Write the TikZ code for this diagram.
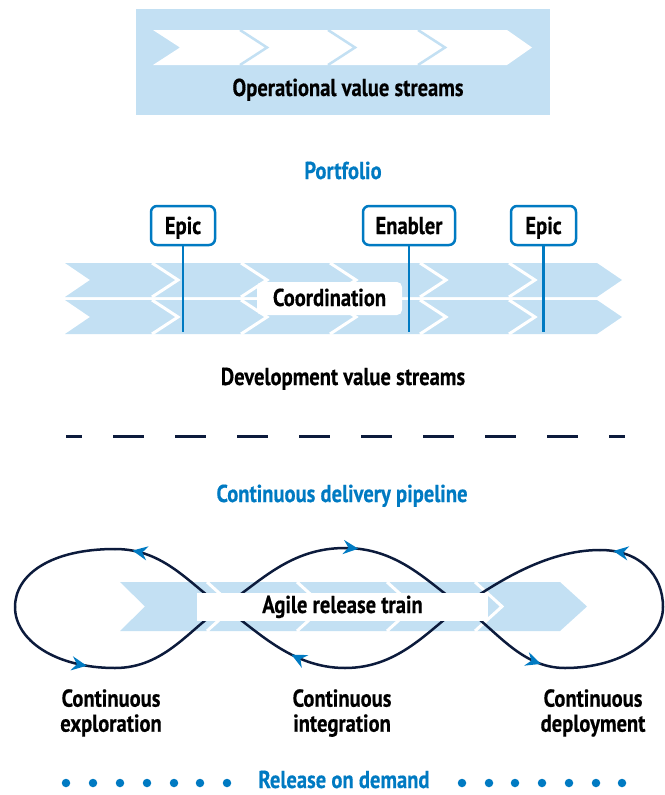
\documentclass[tikz,border=0pt]{standalone}
\usepackage{fontspec}
\newfontfamily\cf{PT Sans}[FakeStretch=0.84,FakeBold=0.4]
\usetikzlibrary{arrows.meta,decorations.markings}
\definecolor{lb}{RGB}{195,224,243}
\definecolor{bl}{RGB}{0,122,194}
\definecolor{nv}{RGB}{12,27,60}
\begin{document}
\begin{tikzpicture}[x=1pt,y=-1pt,
  lbl/.style={font=\cf\bfseries\fontsize{24.5}{25}\selectfont, inner sep=0pt},
  bluelbl/.style={lbl, text=bl},
  tagbox/.style={draw=bl, line width=2.5pt, rounded corners=6pt, fill=white, minimum height=39pt, inner sep=0pt},
  sepw/.style={white, line width=3pt},
  sepb/.style={lb, line width=2.5pt},
  pin/.style={bl, line width=2.5pt},
  loopseg/.style={nv, line width=2.5pt, line cap=round},
  arr/.style={postaction={decorate, decoration={markings, mark=at position #1 with {\arrow[color=bl]{Stealth[length=15pt,width=14pt,inset=5pt]}}}}},
  dotn/.style={circle, fill=bl, inner sep=0pt, minimum size=8.5pt}
]
\useasboundingbox (0,0) rectangle (664,795);

% ---------- Operational value streams ----------
\fill[lb] (136,9) rectangle (550,115);
\fill[white] (153,30) -- (507,30) -- (532,47.5) -- (507,65) -- (153,65) -- (180,47.5) -- cycle;
\foreach \x in {240,328,418} \draw[sepb] (\x,30) -- (\x+27,47.5) -- (\x,65);
\node[lbl, anchor=base] (ops) at (348,96) {Operational value streams};

% ---------- Portfolio ----------
\node[bluelbl, anchor=base] (portfolio) at (343,179) {Portfolio};

% development value stream chevrons
\foreach \ya/\yb in {263/297,300/334}{
  \fill[lb] (65,\ya) -- (597,\ya) -- (622,{(\ya+\yb)/2}) -- (597,\yb) -- (65,\yb) -- (90,{(\ya+\yb)/2}) -- cycle;
  \foreach \x in {152,241,330,420,509} \draw[sepw] (\x,\ya) -- (\x+26,{(\ya+\yb)/2}) -- (\x,\yb);
}

\node[fill=white, rounded corners=5pt, minimum width=145pt, minimum height=33pt, inner sep=0pt] (coord) at (329.5,298.5) {};
\node[lbl, anchor=base] (coordt) at (329.5,306) {Coordination};

\node[tagbox, minimum width=64pt] (epic1) at (183,225.5) {};
\node[tagbox, minimum width=92pt] (enabler) at (409,225.5) {};
\node[tagbox, minimum width=65pt] (epic2) at (543.5,225.5) {};
\node[lbl, anchor=base] (epic1t) at (183,234) {Epic};
\node[lbl, anchor=base] (enablert) at (409,234) {Enabler};
\node[lbl, anchor=base] (epic2t) at (543.5,234) {Epic};
\coordinate (p1) at (183,332);
\coordinate (p2) at (409,332);
\coordinate (p3) at (543.5,332);
\draw[pin] (epic1.south) -- (p1);
\draw[pin] (enabler.south) -- (p2);
\draw[pin] (epic2.south) -- (p3);

\node[lbl, anchor=base] (dev) at (343,385) {Development value streams};

% dashed separator
\coordinate (dl) at (66,436);
\coordinate (dr) at (625,436);
\draw[nv, line width=3pt, dash pattern=on 31pt off 31pt, dash phase=15pt] (dl) -- (dr);

% ---------- Continuous delivery pipeline ----------
\node[bluelbl, anchor=base] (cdp) at (342,502) {Continuous delivery pipeline};

\fill[lb] (120,582) -- (560,582) -- (587,606.5) -- (560,631) -- (120,631) -- (145,606.5) -- cycle;
\foreach \x in {207,297,387,475} \draw[sepw] (\x,582) -- (\x+27,606.5) -- (\x,631);

% loop curve
\draw[loopseg] (223,607) .. controls (260,582) and (290,548) .. (345,548);
\draw[loopseg, arr=0.1] (345,548) .. controls (400,548) and (430,585) .. (462,606);
\draw[loopseg, arr=0.8] (462,606) .. controls (495,628) and (520,668) .. (565,668);
\draw[loopseg] (565,668) .. controls (620,668) and (663,640) .. (663,607);
\draw[loopseg, arr=0.86] (663,607) .. controls (663,575) and (640,550) .. (600,550);
\draw[loopseg] (600,550) .. controls (545,550) and (495,584) .. (462,606);
\draw[loopseg] (462,606) .. controls (430,628) and (400,668) .. (345,668);
\draw[loopseg, arr=0.4] (345,668) .. controls (290,668) and (255,628) .. (223,607);
\draw[loopseg, arr=0.86] (223,607) .. controls (190,585) and (165,549) .. (115,549);
\draw[loopseg] (115,549) .. controls (50,549) and (15,575) .. (15,607);
\draw[loopseg, arr=0.78] (15,607) .. controls (15,640) and (55,668) .. (115,668);
\draw[loopseg] (115,668) .. controls (165,668) and (190,628) .. (223,607);

\node[fill=white, minimum width=291pt, minimum height=28pt, inner sep=0pt] (art) at (342.5,607) {};
\node[lbl, anchor=base] (artt) at (342.5,613) {Agile release train};

\node[lbl, align=center, anchor=north] (ce) at (111,689) {Continuous\\exploration};
\node[lbl, align=center, anchor=north] (ci) at (342,689) {Continuous\\integration};
\node[lbl, align=center, anchor=north] (cd) at (593,689) {Continuous\\deployment};

% ---------- Release on demand ----------
\node[bluelbl, anchor=base] (rod) at (344,788) {Release on demand};
\foreach \x [count=\i] in {66,93,120,147,174,200,227} \node[dotn] (dl\i) at (\x,783) {};
\foreach \x [count=\i] in {462,489,515,542,569,596,622} \node[dotn] (dr\i) at (\x,783) {};
\end{tikzpicture}
\end{document}
